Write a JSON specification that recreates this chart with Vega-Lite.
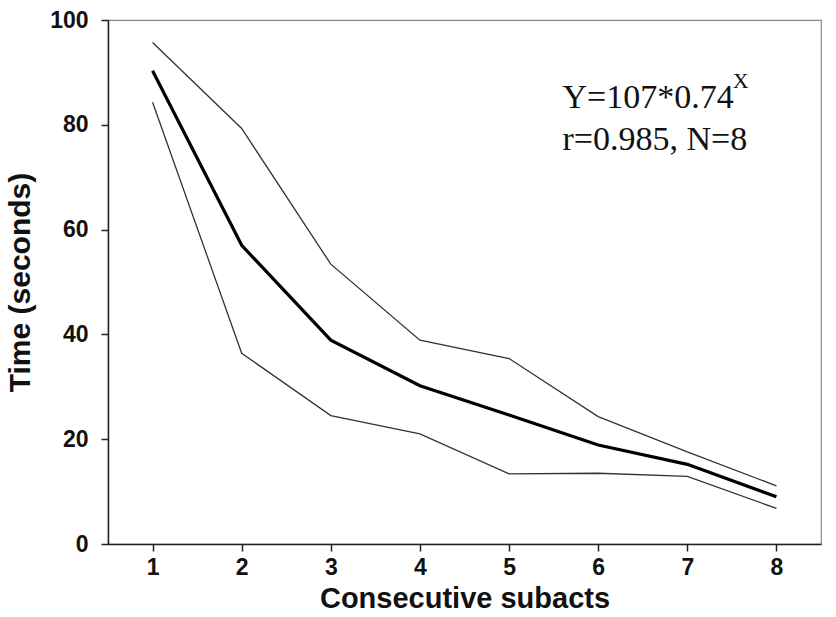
{
  "$schema": "https://vega.github.io/schema/vega-lite/v6.json",
  "width": 713,
  "height": 524,
  "autosize": {"type": "none"},
  "padding": {"left": 108, "top": 20, "right": 15, "bottom": 73},
  "background": "white",
  "config": {
    "view": {"stroke": "#888888", "strokeWidth": 1.2},
    "axis": {
      "grid": false,
      "domainColor": "#222222",
      "domainWidth": 1.5,
      "tickColor": "#222222",
      "tickWidth": 1.5,
      "tickSize": 7,
      "labelFont": "Liberation Sans",
      "labelFontWeight": "bold",
      "labelFontSize": 23,
      "labelColor": "#111111",
      "titleFont": "Liberation Sans",
      "titleFontWeight": "bold",
      "titleFontSize": 29,
      "titleColor": "#111111"
    }
  },
  "datasets": {
    "series": [
      {"subact": 1, "band": "upper", "time": 95.7},
      {"subact": 2, "band": "upper", "time": 79.3},
      {"subact": 3, "band": "upper", "time": 53.4},
      {"subact": 4, "band": "upper", "time": 38.9},
      {"subact": 5, "band": "upper", "time": 35.4},
      {"subact": 6, "band": "upper", "time": 24.3},
      {"subact": 7, "band": "upper", "time": 17.6},
      {"subact": 8, "band": "upper", "time": 11.1},
      {"subact": 1, "band": "lower", "time": 84.3},
      {"subact": 2, "band": "lower", "time": 36.4},
      {"subact": 3, "band": "lower", "time": 24.5},
      {"subact": 4, "band": "lower", "time": 21.0},
      {"subact": 5, "band": "lower", "time": 13.4},
      {"subact": 6, "band": "lower", "time": 13.5},
      {"subact": 7, "band": "lower", "time": 12.9},
      {"subact": 8, "band": "lower", "time": 6.8}
    ],
    "mean": [
      {"subact": 1, "time": 90.3},
      {"subact": 2, "time": 57.0},
      {"subact": 3, "time": 38.9},
      {"subact": 4, "time": 30.2},
      {"subact": 5, "time": 24.6},
      {"subact": 6, "time": 18.9},
      {"subact": 7, "time": 15.2},
      {"subact": 8, "time": 9.0}
    ],
    "notes": [
      {"x": 5.6, "y": 83.2, "label": "Y=107*0.74"},
      {"x": 5.6, "y": 75.2, "label": "r=0.985, N=8"}
    ],
    "sup": [
      {"x": 7.51, "y": 87.0, "label": "X"}
    ]
  },
  "layer": [
    {
      "data": {"name": "series"},
      "mark": {"type": "line", "color": "#333333", "strokeWidth": 1.3},
      "encoding": {
        "x": {
          "field": "subact", "type": "quantitative",
          "scale": {"domain": [0.5, 8.5], "nice": false, "zero": false},
          "axis": {"values": [1, 2, 3, 4, 5, 6, 7, 8], "format": "d", "title": "Consecutive subacts", "labelPadding": 5, "titlePadding": 5}
        },
        "y": {
          "field": "time", "type": "quantitative",
          "scale": {"domain": [0, 100], "nice": false},
          "axis": {"values": [0, 20, 40, 60, 80, 100], "format": "d", "title": "Time (seconds)", "titleFontSize": 30, "labelPadding": 13, "titleX": -79, "titleBaseline": "alphabetic"}
        },
        "detail": {"field": "band"}
      }
    },
    {
      "data": {"name": "mean"},
      "mark": {"type": "line", "color": "#000000", "strokeWidth": 3.2},
      "encoding": {
        "x": {"field": "subact", "type": "quantitative"},
        "y": {"field": "time", "type": "quantitative"}
      }
    },
    {
      "data": {"name": "notes"},
      "mark": {"type": "text", "font": "Liberation Serif", "fontSize": 34, "align": "left", "baseline": "alphabetic", "color": "#111111"},
      "encoding": {
        "x": {"field": "x", "type": "quantitative"},
        "y": {"field": "y", "type": "quantitative"},
        "text": {"field": "label"}
      }
    },
    {
      "data": {"name": "sup"},
      "mark": {"type": "text", "font": "Liberation Serif", "fontSize": 22, "align": "left", "baseline": "alphabetic", "color": "#111111"},
      "encoding": {
        "x": {"field": "x", "type": "quantitative"},
        "y": {"field": "y", "type": "quantitative"},
        "text": {"field": "label"}
      }
    }
  ]
}
